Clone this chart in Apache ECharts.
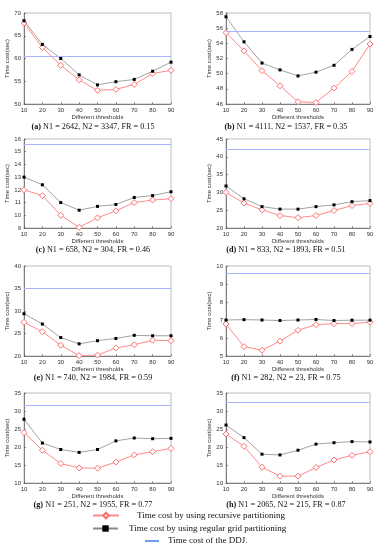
<!DOCTYPE html>
<html><head><meta charset="utf-8">
<script src="https://cdn.jsdelivr.net/npm/echarts@6/dist/echarts.min.js"></script>
<style>html,body{margin:0;padding:0;background:#fff}#c{width:380px;height:550px}</style>
</head><body><div id="c"></div>
<script>
const thresholds = ['10','20','30','40','50','60','70','80','90'];

const recA = [67.8, 62.4, 58.5, 55.3, 53.0, 53.2, 54.3, 56.7, 57.4];
const gridA = [68.3, 63.1, 60.0, 56.4, 54.2, 54.9, 55.4, 57.2, 59.2];
const ddjA = 60.6;

const recB = [55.4, 53.0, 50.4, 48.4, 46.3, 46.2, 48.1, 50.3, 53.9];
const gridB = [57.5, 54.2, 51.4, 50.5, 49.7, 50.2, 51.1, 53.2, 54.9];
const ddjB = 55.6;

const recC = [12.0, 11.55, 10.0, 9.05, 9.8, 10.35, 11.0, 11.2, 11.3];
const gridC = [13.0, 12.4, 11.0, 10.4, 10.7, 10.85, 11.4, 11.55, 11.85];
const ddjC = 15.55;

const recD = [30.0, 27.0, 25.1, 23.5, 22.9, 23.5, 24.9, 26.3, 26.9];
const gridD = [31.8, 28.2, 26.0, 25.3, 25.3, 26.0, 26.5, 27.4, 27.7];
const ddjD = 42.0;

const recE = [27.5, 25.4, 22.4, 20.1, 20.2, 21.8, 22.5, 23.5, 23.4];
const gridE = [29.4, 27.1, 24.1, 22.7, 23.4, 23.9, 24.6, 24.5, 24.5];
const ddjE = 35.0;

const recF = [6.78, 5.52, 5.32, 5.83, 6.43, 6.74, 6.8, 6.8, 6.88];
const gridF = [7.0, 7.02, 7.0, 6.97, 7.0, 7.03, 6.97, 6.99, 6.99];
const ddjF = 9.6;

const recG = [24.0, 19.1, 15.4, 14.2, 14.1, 15.8, 17.8, 18.7, 19.6];
const gridG = [27.7, 21.1, 19.3, 18.5, 19.3, 21.7, 22.5, 22.3, 22.4];
const ddjG = 31.6;

const recH = [23.6, 20.2, 14.4, 11.9, 11.9, 14.3, 16.4, 17.7, 18.7];
const gridH = [26.1, 22.6, 18.0, 17.8, 19.1, 20.8, 21.2, 21.5, 21.4];
const ddjH = 32.4;

const panelLetters = ['(a)','(b)','(c)','(d)','(e)','(f)','(g)','(h)'];
const panelCaptions = [
  'N1 = 2642, N2 = 3347, FR = 0.15',
  'N1 = 4111, N2 = 1537, FR = 0.35',
  'N1 = 658, N2 = 304, FR = 0.46',
  'N1 = 833, N2 = 1893, FR = 0.51',
  'N1 = 740, N2 = 1984, FR = 0.59',
  'N1 = 282, N2 = 23, FR = 0.75',
  'N1 = 251, N2 = 1955, FR = 0.77',
  'N1 = 2065, N2 = 215, FR = 0.87'
];
const yMins = [50, 46, 9, 20, 20, 5, 10, 10];
const yMaxs = [70, 58, 16, 45, 40, 10, 35, 35];
const yIntervals = [5, 2, 1, 5, 5, 1, 5, 5];

const recSeries = [recA, recB, recC, recD, recE, recF, recG, recH];
const gridSeries = [gridA, gridB, gridC, gridD, gridE, gridF, gridG, gridH];
const ddjValues = [ddjA, ddjB, ddjC, ddjD, ddjE, ddjF, ddjG, ddjH];

const NAME_REC = 'Time cost by using recursive partitioning';
const NAME_GRID = 'Time cost by using regular grid partitioning';
const NAME_DDJ = 'Time cost of the DDJ.';

const colLeft = [24, 226];
const colWidth = [147, 144];
const colCenter = [93, 286];
const rowTop = [13, 139, 266, 393];
const rowHeight = [91, 89, 90, 90];
const capY = [122, 244.5, 373, 500];
const nameGaps = [10, 8.5, 9.5, 10];

const sans = 'Liberation Sans';
const serif = 'Liberation Serif';

const grids = [], xAxes = [], yAxes = [], series = [], titles = [];
for (let i = 0; i < 8; i++) {
  const col = i % 2, row = Math.floor(i / 2);
  grids.push({
    left: colLeft[col], top: rowTop[row], width: colWidth[col], height: rowHeight[row],
    show: true, borderColor: '#a0a0a0', borderWidth: 0.7, backgroundColor: '#fff'
  });
  xAxes.push({
    type: 'category', gridIndex: i, data: thresholds, boundaryGap: false,
    name: 'Different thresholds', nameLocation: 'middle', nameGap: nameGaps[row],
    nameTextStyle: { fontSize: 6, fontFamily: sans, color: '#333' },
    axisLine: { lineStyle: { color: '#555', width: 0.7 } },
    axisTick: { inside: true, length: 2, lineStyle: { color: '#555', width: 0.6 } },
    axisLabel: { fontSize: 6, fontFamily: sans, color: '#333', margin: 3, interval: 0 },
    splitLine: { show: false }
  });
  yAxes.push({
    type: 'value', gridIndex: i, min: yMins[i], max: yMaxs[i], interval: yIntervals[i],
    name: 'Time cost(sec)', nameLocation: 'middle', nameGap: 11,
    nameTextStyle: { fontSize: 6, fontFamily: sans, color: '#333' },
    axisLine: { show: true, lineStyle: { color: '#555', width: 0.7 } },
    axisTick: { show: true, inside: true, length: 2, lineStyle: { color: '#555', width: 0.6 } },
    axisLabel: { fontSize: 6, fontFamily: sans, color: '#333', margin: 3 },
    splitLine: { show: false }
  });
  series.push({
    name: NAME_REC, type: 'line', xAxisIndex: i, yAxisIndex: i, data: recSeries[i],
    symbol: 'diamond', symbolSize: 6, z: 3,
    lineStyle: { color: '#ff8a8a', width: 1 },
    itemStyle: { color: '#fff', borderColor: '#ff7070', borderWidth: 1 }
  });
  series.push({
    name: NAME_GRID, type: 'line', xAxisIndex: i, yAxisIndex: i, data: gridSeries[i],
    symbol: 'rect', symbolSize: 3, z: 4,
    lineStyle: { color: '#8a8a8a', width: 0.8 },
    itemStyle: { color: '#000' }
  });
  series.push({
    name: NAME_DDJ, type: 'line', xAxisIndex: i, yAxisIndex: i, data: [],
    symbol: 'none', color: '#3f7fe6',
    lineStyle: { color: '#3f7fe6', width: 1.2 },
    markLine: {
      silent: true, symbol: ['none', 'none'], label: { show: false },
      lineStyle: { color: '#a9b4ff', width: 1, type: 'solid' },
      data: [{ yAxis: ddjValues[i] }]
    }
  });
  titles.push({
    text: '{b|' + panelLetters[i] + '} {n|' + panelCaptions[i] + '}',
    left: colCenter[col], top: capY[row], textAlign: 'center', padding: 0,
    textStyle: {
      fontSize: 8.2, fontFamily: serif, fontWeight: 'normal', color: '#111', lineHeight: 10,
      rich: {
        b: { fontSize: 8.2, fontFamily: serif, fontWeight: 'bold', color: '#111', lineHeight: 10 },
        n: { fontSize: 8.2, fontFamily: serif, color: '#111', lineHeight: 10 }
      }
    }
  });
}

function legendTextStyle(pad) {
  return { fontSize: 9, fontFamily: serif, color: '#111',
    rich: { t: { fontSize: 9, fontFamily: serif, color: '#111', padding: [0, 0, 0, pad] } } };
}
const fmt = name => '{t|' + name + '}';
const option = {
  animation: false,
  backgroundColor: '#fff',
  title: titles,
  grid: grids,
  xAxis: xAxes,
  yAxis: yAxes,
  legend: [
    { data: [NAME_REC], left: 92, top: 511, padding: 0, itemWidth: 26, itemHeight: 7, selectedMode: false,
      formatter: fmt, textStyle: legendTextStyle(13) },
    { data: [NAME_GRID], left: 92, top: 524, padding: 0, itemWidth: 25, itemHeight: 8, selectedMode: false,
      formatter: fmt, textStyle: legendTextStyle(6) },
    { data: [{ name: NAME_DDJ, icon: 'rect' }], left: 145, top: 536.5, padding: 0, itemWidth: 14, itemHeight: 1.5, selectedMode: false,
      formatter: fmt, textStyle: legendTextStyle(4) }
  ],
  series: series
};
const chart = echarts.init(document.getElementById('c'), null, { renderer: 'canvas' });
chart.setOption(option);
</script>
</body></html>
